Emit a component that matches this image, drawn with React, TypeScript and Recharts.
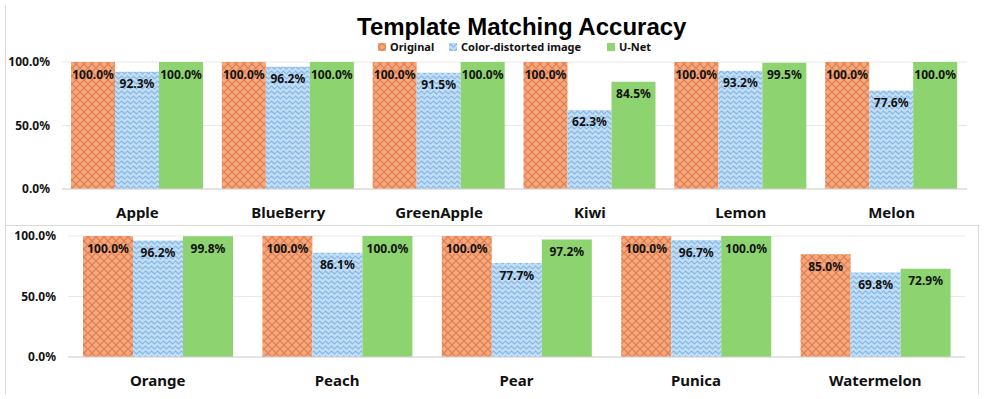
import React from "react";
import {
  BarChart,
  Bar,
  XAxis,
  YAxis,
  CartesianGrid,
  LabelList,
} from "recharts";

const topFruits = ["Apple", "BlueBerry", "GreenApple", "Kiwi", "Lemon", "Melon"];
const topOriginal = [100, 100, 100, 100, 100, 100];
const topDistorted = [92.3, 96.2, 91.5, 62.3, 93.2, 77.6];
const topUnet = [100, 100, 100, 84.5, 99.5, 100];

const bottomFruits = ["Orange", "Peach", "Pear", "Punica", "Watermelon"];
const bottomOriginal = [100, 100, 100, 100, 85.0];
const bottomDistorted = [96.2, 86.1, 77.7, 96.7, 69.8];
const bottomUnet = [99.8, 100, 97.2, 100, 72.9];

const yTicks = [0, 50, 100];

const ORANGE_BG = "#F5A87F";
const ORANGE_FG = "#E07E4C";
const BLUE_BG = "#C0DEF6";
const BLUE_FG = "#86B6E6";
const GREEN = "#8DD36F";

const labelFont = "'Noto Sans', sans-serif";
const pct = (v: any) => `${Number(v).toFixed(1)}%`;

function Patterns() {
  return (
    <defs>
      <pattern id="origPat" width="8" height="8" patternUnits="userSpaceOnUse">
        <rect width="8" height="8" fill={ORANGE_BG} />
        <path
          d="M0 4 L4 0 L8 4 L4 8 Z"
          fill="none"
          stroke={ORANGE_FG}
          strokeWidth="1.2"
        />
      </pattern>
      <pattern id="distPat" width="6" height="5" patternUnits="userSpaceOnUse">
        <rect width="6" height="5" fill={BLUE_BG} />
        <path
          d="M0 2.5 L1.5 1 L3 2.5 L4.5 4 L6 2.5"
          fill="none"
          stroke={BLUE_FG}
          strokeWidth="1.1"
        />
      </pattern>
    </defs>
  );
}

function Panel(props: {
  fruits: string[];
  original: number[];
  distorted: number[];
  unet: number[];
  top: number;
  height: number;
  marginTop: number;
  xHeight: number;
  yWidth: number;
  right: number;
  gap: number;
  tickMargin: number;
}) {
  const data = props.fruits.map((f, i) => ({
    name: f,
    original: props.original[i],
    distorted: props.distorted[i],
    unet: props.unet[i],
  }));
  const labelStyle = {
    fill: "#111",
    fontSize: 12,
    fontWeight: 700,
    fontFamily: labelFont,
  };
  return (
    <div style={{ position: "absolute", left: 0, top: props.top }}>
      <BarChart
        width={985}
        height={props.height}
        data={data}
        margin={{ top: props.marginTop, right: props.right, bottom: 0, left: 0 }}
        barCategoryGap={props.gap}
        barGap={0}
      >
        <Patterns />
        <CartesianGrid vertical={false} stroke="#e8e8e8" />
        <XAxis
          dataKey="name"
          height={props.xHeight}
          tickLine={false}
          axisLine={{ stroke: "#d4d4d4" }}
          tickMargin={props.tickMargin}
          tick={{
            fill: "#111",
            fontSize: 15,
            fontWeight: 700,
            fontFamily: labelFont,
          }}
        />
        <YAxis
          width={props.yWidth}
          domain={[0, 100]}
          ticks={yTicks}
          tickFormatter={pct}
          tickLine={false}
          axisLine={false}
          tickSize={0}
          tickMargin={12}
          tick={{
            fill: "#111",
            fontSize: 12,
            fontWeight: 700,
            fontFamily: labelFont,
          }}
        />
        <Bar dataKey="original" fill="url(#origPat)" isAnimationActive={false}>
          <LabelList dataKey="original" position="insideTop" offset={8} formatter={pct} style={labelStyle} />
        </Bar>
        <Bar dataKey="distorted" fill="url(#distPat)" isAnimationActive={false}>
          <LabelList dataKey="distorted" position="insideTop" offset={8} formatter={pct} style={labelStyle} />
        </Bar>
        <Bar dataKey="unet" fill={GREEN} isAnimationActive={false}>
          <LabelList dataKey="unet" position="insideTop" offset={8} formatter={pct} style={labelStyle} />
        </Bar>
      </BarChart>
    </div>
  );
}

function LegendItem({ kind, text, left }: { kind: string; text: string; left: number }) {
  return (
    <span
      style={{
        position: "absolute",
        left,
        top: 0,
        display: "inline-flex",
        alignItems: "center",
        whiteSpace: "nowrap",
      }}
    >
      <svg width="8" height="8" style={{ marginRight: 4 }}>
        <rect
          width="8"
          height="8"
          fill={kind === "unet" ? GREEN : kind === "orig" ? "url(#origPat)" : "url(#distPat)"}
        />
      </svg>
      {text}
    </span>
  );
}

export default function App() {
  return (
    <div
      style={{
        position: "absolute",
        left: 0,
        top: 0,
        width: 985,
        height: 399,
        background: "#fff",
        overflow: "hidden",
      }}
    >
      <div style={{ position: "absolute", left: 5, top: 5, width: 1, height: 389, background: "#d9d9d9" }} />
      <div style={{ position: "absolute", left: 5, top: 225, width: 973, height: 1, background: "#d9d9d9" }} />
      <div style={{ position: "absolute", left: 978, top: 225, width: 1, height: 169, background: "#d9d9d9" }} />
      <Panel
        fruits={topFruits}
        original={topOriginal}
        distorted={topDistorted}
        unet={topUnet}
        top={0}
        height={225}
        marginTop={62}
        xHeight={36}
        yWidth={62}
        right={18}
        gap={9}
        tickMargin={12}
      />
      <Panel
        fruits={bottomFruits}
        original={bottomOriginal}
        distorted={bottomDistorted}
        unet={bottomUnet}
        top={225}
        height={174}
        marginTop={11}
        xHeight={42}
        yWidth={68}
        right={20}
        gap={15}
        tickMargin={12}
      />
      <div
        style={{
          position: "absolute",
          left: 357,
          top: 13,
          fontFamily: "Arimo, 'Liberation Sans', Arial, sans-serif",
          fontWeight: 700,
          fontSize: 24,
          lineHeight: "28px",
          color: "#000",
          whiteSpace: "nowrap",
        }}
      >
        Template Matching Accuracy
      </div>
      <div
        style={{
          position: "absolute",
          left: 0,
          top: 39,
          width: 985,
          height: 16,
          fontFamily: labelFont,
          fontWeight: 700,
          fontSize: 11,
          color: "#111",
        }}
      >
        <LegendItem kind="orig" text="Original" left={378} />
        <LegendItem kind="dist" text="Color-distorted image" left={449} />
        <LegendItem kind="unet" text="U-Net" left={607} />
      </div>
    </div>
  );
}
